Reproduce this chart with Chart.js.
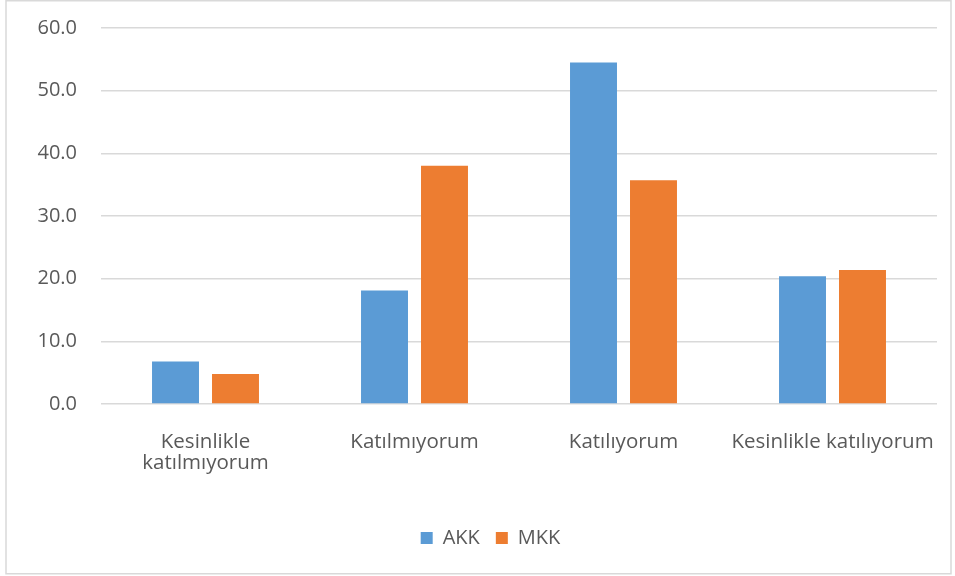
<!DOCTYPE html>
<html>
<head>
<meta charset="utf-8">
<script src="https://cdn.jsdelivr.net/npm/chart.js@4.4.1/dist/chart.umd.min.js"></script>
<style>
  html, body { margin: 0; padding: 0; background: #fff; }
  #wrap { width: 955px; height: 576px; position: relative; }
</style>
</head>
<body>
<div id="wrap"><canvas id="chart"></canvas></div>
<script>
// Data
const categories = [["Kesinlikle", "katılmıyorum"], "Katılmıyorum", "Katılıyorum", "Kesinlikle katılıyorum"];
const akkValues = [6.8, 18.1, 54.5, 20.4];
const mkkValues = [4.8, 38.0, 35.7, 21.4];
const yTicks = [0, 10, 20, 30, 40, 50, 60];

const textColor = "#595959";
const gridColor = "#d9d9d9";

// white background + thin grey frame round the whole chart
const frame = {
  id: "frame",
  afterLayout(chart) {
    // legend sits centred under the plot, not the whole canvas
    chart.legend.left += 19;
    chart.legend.right += 19;
  },
  beforeDraw(chart) {
    const ctx = chart.ctx;
    ctx.save();
    ctx.fillStyle = "#fff";
    ctx.fillRect(0, 0, chart.width, chart.height);
    ctx.strokeStyle = gridColor;
    ctx.lineWidth = 1.5;
    ctx.strokeRect(6, 0.75, 945, 573);
    ctx.restore();
  }
};

Chart.defaults.font.family = "'Open Sans', sans-serif";
Chart.defaults.font.size = 20;
Chart.defaults.color = textColor;

const ctx = document.getElementById("chart").getContext("2d");
new Chart(ctx, {
  type: "bar",
  data: {
    labels: categories,
    datasets: [
      { label: "AKK", data: akkValues, backgroundColor: "#5B9BD5" },
      { label: "MKK", data: mkkValues, backgroundColor: "#ED7D31" }
    ]
  },
  options: {
    responsive: true,
    maintainAspectRatio: false,
    animation: false,
    categoryPercentage: 0.574,
    barPercentage: 0.783,
    layout: { padding: { left: 6, right: 18, top: 21, bottom: 18 } },
    plugins: {
      tooltip: { enabled: false },
      legend: {
        position: "bottom",
        labels: { boxWidth: 12, boxHeight: 12, padding: 16, color: textColor, font: { size: 20 } }
      }
    },
    scales: {
      x: {
        // invisible tick marks push the labels down without widening the side padding
        grid: { display: true, drawOnChartArea: false, drawTicks: true, tickLength: 23.5, color: "rgba(0,0,0,0)" },
        border: { display: false },
        ticks: { padding: 4, maxRotation: 0, autoSkip: false, color: textColor, font: { size: 20.5, lineHeight: 1.044 } },
        afterFit(scale) { scale.height = 108; }
      },
      y: {
        min: 0,
        max: 60,
        afterBuildTicks(scale) { scale.ticks = yTicks.map(v => ({ value: v })); },
        grid: { color: gridColor, lineWidth: 1.5, drawTicks: false },
        border: { display: false },
        ticks: { padding: 24, color: textColor, font: { size: 20, lineHeight: 0.4 }, callback: v => v.toFixed(1) },
        afterFit(scale) { scale.width = 95; }
      }
    }
  },
  plugins: [frame]
});
</script>
</body>
</html>
